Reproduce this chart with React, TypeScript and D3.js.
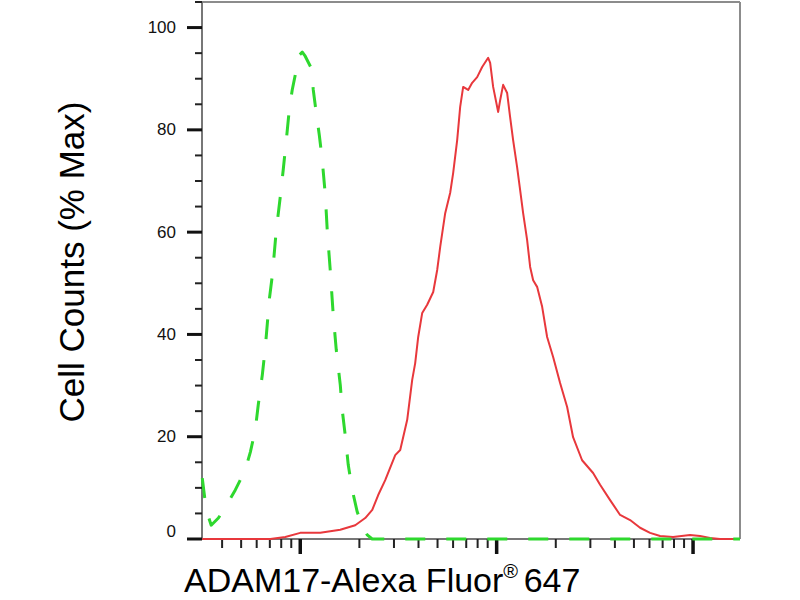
import * as d3 from "d3"

// isotype control (green dashed)
const isotypeX = [
  31.7, 33.2, 35.2, 38.3, 42.0, 46.7, 52.5, 55.7, 59.0, 61.1, 64.1, 66.4, 68.0, 69.5, 72.1, 75.5, 79.1,
  81.9, 84.9, 87.9, 91.0, 95.4, 98.8, 102.4, 106.0, 113.7, 116.5, 120.6, 125.0, 129.4, 134.1, 137.2,
  142.1, 147.2, 152.5, 159.9, 163.6, 169.4, 175.5, 184.0, 195.0, 206.9, 219.2, 232.4, 17340,
]
const isotypeY = [
  11.9, 5.7, 2.7, 4.1, 6.5, 9.6, 13.5, 17.0, 21.3, 26.2, 32.1, 37.5, 42.2, 46.7, 51.6, 60.4, 66.9, 72.2,
  78.0, 83.9, 87.8, 91.7, 94.6, 95.2, 94.4, 92.1, 87.8, 83.3, 79.0, 74.1, 67.3, 60.4, 52.6, 43.8, 37.0,
  30.1, 25.2, 20.3, 14.5, 9.6, 5.3, 2.7, 0.8, 0, 0,
]

// ADAM17 stained sample (red)
const sampleX = [
  31.7, 70.4, 83.9, 100, 126.4, 159.8, 190.5, 214.2, 232.6, 249.4, 270.8, 304.5, 322.8, 350.4, 371.5,
  384.8, 398.6, 417.8, 442.9, 475.3, 498, 515.9, 547, 580, 600.7, 629.5, 652, 675.3, 716.1, 750.4, 795.7,
  843.7, 905.2, 926.7, 959.8, 1018, 1042, 1079, 1131, 1171, 1213, 1271, 1317, 1364, 1429, 1481, 1534,
  1607, 1705, 1807, 1939, 2104, 2285, 2450, 2723, 3098, 3363, 3782, 4252, 4780, 5374, 6042, 6793, 7910,
  9655, 10854, 12202, 13718, 17340,
]
const sampleY = [
  0, 0, 0.4, 1.2, 1.2, 1.8, 2.7, 4.1, 5.7, 8.6, 11.5, 16.4, 17.4, 23.3, 31.1, 34.4, 39.5, 44.2, 45.8,
  48.3, 52.6, 57.1, 63.7, 67.7, 71.6, 78.0, 84.5, 88.4, 87.8, 89.2, 90.3, 92.3, 94.1, 93.1, 88.4, 83.5,
  85.8, 88.8, 87.2, 82.5, 78.0, 72.7, 68.2, 63.7, 58.5, 53.2, 50.6, 49.3, 45.4, 39.5, 35.6, 30.5, 25.8,
  19.9, 15.4, 12.9, 10.6, 7.6, 4.7, 3.7, 2.2, 1.2, 0.6, 0.4, 0.8, 0.6, 0.2, 0, 0,
]

const xDomain = [31.6, 17340]
const yDomain = [0, 105]
const yMajorTicks = [0, 20, 40, 60, 80, 100]
const yTickLabels = ["0", "20", "40", "60", "80", "100"]
const xMajorTicks = [100, 1000, 10000]

const FONT = "'Liberation Sans', Arial, Helvetica, sans-serif"

export default function App() {
  const width = 800
  const height = 600
  const left = 202
  const right = 740
  const top = 2
  const bottom = 539

  const x = d3.scaleLog().domain(xDomain).range([left, right])
  const y = d3.scaleLinear().domain(yDomain).range([bottom, top])

  const yMinorTicks = d3.range(0, 106, 5).filter((v) => v % 20 !== 0)
  const xMinorTicks: number[] = []
  ;[10, 100, 1000, 10000].forEach((dec) => {
    for (let k = 2; k <= 9; k++) {
      const v = k * dec
      if (v > xDomain[0] && v < xDomain[1]) xMinorTicks.push(v)
    }
  })

  const line = d3
    .line<[number, number]>()
    .x((d) => x(d[0]))
    .y((d) => y(d[1]))

  const isotypePath = line(isotypeX.map((v, i) => [v, isotypeY[i]])) || ""
  const samplePath = line(sampleX.map((v, i) => [v, sampleY[i]])) || ""

  return (
    <svg
      width={width}
      height={height}
      style={{ position: "absolute", left: 0, top: 0, background: "#fff" }}
    >
      {/* frame */}
      <line x1={left} x2={right} y1={top} y2={top} stroke="#8c8c8c" strokeWidth={2} />
      <line x1={right} x2={right} y1={top} y2={bottom} stroke="#8c8c8c" strokeWidth={2} />
      <line x1={left} x2={right} y1={bottom} y2={bottom} stroke="#777" strokeWidth={2} />
      <line x1={left} x2={left} y1={top} y2={bottom} stroke="#777" strokeWidth={2} />

      {/* y ticks */}
      {yMinorTicks.map((v) => (
        <line key={"ym" + v} x1={left - 7} x2={left} y1={y(v)} y2={y(v)} stroke="#222" strokeWidth={2} />
      ))}
      {yMajorTicks.map((v, i) => (
        <g key={"yM" + v}>
          <line x1={left - 15} x2={left} y1={y(v)} y2={y(v)} stroke="#111" strokeWidth={3} />
          <text
            x={left - 26}
            y={v === 0 ? y(v) - 8 : y(v)}
            textAnchor="end"
            dominantBaseline="central"
            fontFamily={FONT}
            fontSize={17}
            fill="#111"
          >
            {yTickLabels[i]}
          </text>
        </g>
      ))}

      {/* x ticks */}
      {xMinorTicks.map((v) => (
        <line key={"xm" + v} x1={x(v)} x2={x(v)} y1={bottom} y2={bottom + 9} stroke="#222" strokeWidth={2} />
      ))}
      {xMajorTicks.map((v) => (
        <line key={"xM" + v} x1={x(v)} x2={x(v)} y1={bottom} y2={bottom + 15} stroke="#111" strokeWidth={3.5} />
      ))}

      {/* histograms */}
      <path d={samplePath} fill="none" stroke="#e8383c" strokeWidth={2} strokeLinejoin="round" />
      <path
        d={isotypePath}
        fill="none"
        stroke="#2ed82e"
        strokeWidth={3}
        strokeDasharray="20,21"
        strokeLinejoin="round"
      />

      {/* axis titles */}
      <text
        transform="translate(84,262) rotate(-90)"
        textAnchor="middle"
        fontFamily={FONT}
        fontSize={35}
        fill="#000"
      >
        Cell Counts (% Max)
      </text>
      <text x={184} y={592} fontFamily={FONT} fontSize={34} fill="#000">
        ADAM17-Alexa Fluor
        <tspan fontSize={20} dy={-14}>
          ®{" "}
        </tspan>
        <tspan fontSize={34} dy={14}>
          647
        </tspan>
      </text>
    </svg>
  )
}
